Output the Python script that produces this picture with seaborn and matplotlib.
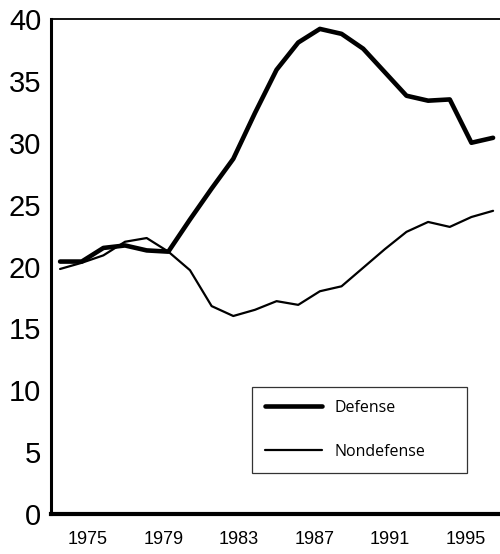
import pandas as pd
import matplotlib
matplotlib.use("Agg")
import matplotlib.pyplot as plt
import seaborn as sns

# data
years = list(range(1975, 1996))
defense = [20.4, 20.4, 21.5, 21.7, 21.3, 21.2, 23.8, 26.3, 28.7, 32.4, 35.9,
           38.1, 39.2, 38.8, 37.6, 35.7, 33.8, 33.4, 33.5, 30.0, 30.4]
nondefense = [19.8, 20.3, 20.9, 22.0, 22.3, 21.2, 19.7, 16.8, 16.0, 16.5, 17.2,
              16.9, 18.0, 18.4, 19.9, 21.4, 22.8, 23.6, 23.2, 24.0, 24.5]
tick_labels = ["1975", "1979", "1983", "1987", "1991", "1995"]
y_ticks = [0, 5, 10, 15, 20, 25, 30, 35, 40]

df = pd.DataFrame({"year": years, "Defense": defense, "Nondefense": nondefense})

sns.set_style("white")
plt.rcParams["font.family"] = ["Liberation Sans", "DejaVu Sans"]
plt.rcParams["text.color"] = "black"

fig = plt.figure(figsize=(5, 5.54), dpi=100)
ax = fig.add_axes([0.102, 0.0722, 0.898, 0.8935])

sns.lineplot(data=df, x="year", y="Defense", color="black", linewidth=3.3,
             label="Defense", ax=ax)
sns.lineplot(data=df, x="year", y="Nondefense", color="black", linewidth=1.6,
             label="Nondefense", ax=ax)

ax.set_ylim(0, 40)
ax.set_xlim(1974.58, 1995.32)
ax.set_yticks(y_ticks)
ax.set_yticklabels([str(v) for v in y_ticks], fontsize=21)
# tick labels sit on an even grid that does not line up with the yearly points
tick_pos = [1976.29 + 3.49 * i for i in range(len(tick_labels))]
ax.set_xticks(tick_pos)
ax.set_xticklabels(tick_labels, fontsize=13)
ax.tick_params(axis="both", length=0, labelcolor="black")
ax.tick_params(axis="y", pad=7)
ax.tick_params(axis="x", pad=12)
ax.set_xlabel("")
ax.set_ylabel("")

ax.spines["right"].set_visible(False)
ax.spines["left"].set_linewidth(2.2)
ax.spines["bottom"].set_linewidth(3.0)
ax.spines["top"].set_linewidth(1.3)
for s in ["left", "bottom", "top"]:
    ax.spines[s].set_color("black")

leg = ax.legend(loc="upper left",
                bbox_to_anchor=(252 / 500, 1 - 387 / 554 - 0.01, 215 / 500, 0.01),
                bbox_transform=fig.transFigure, mode="expand", frameon=True, fancybox=False,
                borderpad=0.8, labelspacing=1.75, handlelength=3.6, handletextpad=0.75,
                borderaxespad=0, prop={"family": ["Open Sans", "DejaVu Sans"], "size": 11.5})
leg.get_frame().set_edgecolor("black")
leg.get_frame().set_linewidth(0.9)
for t in leg.get_texts():
    t.set_color("black")

fig.savefig("out.png", dpi=100)
